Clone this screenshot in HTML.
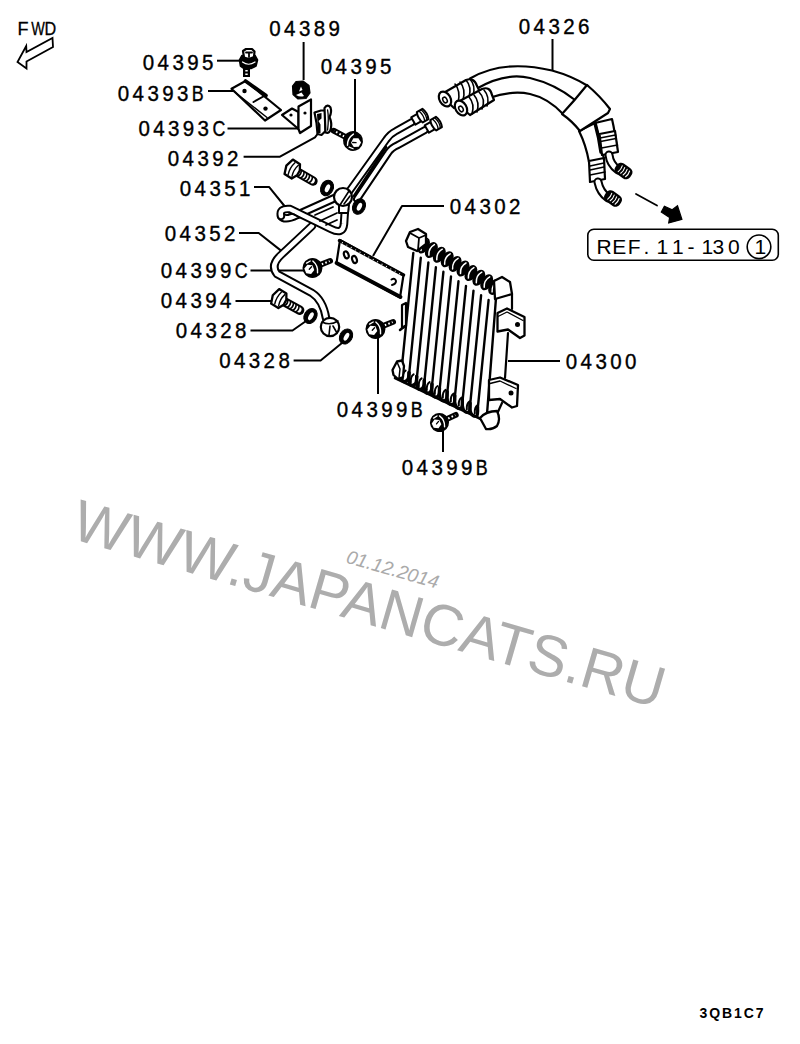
<!DOCTYPE html>
<html><head><meta charset="utf-8"><style>
html,body{margin:0;padding:0;background:#fff;width:800px;height:1044px;overflow:hidden}
svg{position:absolute;left:0;top:0}
text{font-family:"Liberation Sans",sans-serif;fill:#000}
</style></head><body>
<svg width="800" height="1044" viewBox="0 0 800 1044">
<g fill="none" stroke="#000" stroke-width="2" stroke-linecap="butt" stroke-linejoin="round">
<path d="M303.6 42 V80"/>
<path d="M217 60.7 H242"/>
<path d="M208 91 H233"/>
<path d="M355 79 V133"/>
<path d="M227.5 128.6 H299"/>
<path d="M243.6 156.7 H280 L315 137.4 L318.3 133"/>
<path d="M254 186.9 H269 L285.7 207.5"/>
<path d="M239 233 H258.7 L281 250.6"/>
<path d="M250.5 270.5 H307"/>
<path d="M235.5 301 H273.7"/>
<path d="M250.5 330.5 H292.5 L307.5 320"/>
<path d="M293.6 360.5 H320.6 L345 340.6"/>
<path d="M378 334 V394"/>
<path d="M443 430 V452"/>
<path d="M508 361 H560"/>
<path d="M373 256 L402 206 H444"/>
<path d="M552.5 39 V70"/>
</g>
<path d="M52.5 38 L53 47 L26.5 61.5 L26.5 68.5 L17.5 62 L26.2 46 L26.5 52 Z" fill="none" stroke="#000" stroke-width="1.8" stroke-linejoin="miter"/>
<g fill="none" stroke="#000" stroke-width="1.8" stroke-linejoin="round" stroke-linecap="round">
<path d="M231.5 88.7 L245.5 81 L281 110 L265 120.5 Z" fill="#fff" stroke-width="2.2"/>
<path d="M234 91.5 L267 117.5" stroke-width="1.4"/>
<path d="M245.5 81 L266 95.5" stroke-width="3.6"/>
<path d="M253.5 102 L266 95" stroke-width="2"/>
<circle cx="244.5" cy="91" r="2.2" fill="#000" stroke="none"/>
<circle cx="265.5" cy="108.6" r="2.2" fill="#000" stroke="none"/>
<path d="M292.5 86 L296 81.5 L303 81 L309 85.5 L310 93 L306 98.5 L298 99 L293 94.5 Z" fill="#000" stroke="#000" stroke-width="1.2"/>
<path d="M296 95 Q300 97.5 304 96 L301.5 92.5 Z" fill="#fff" stroke="none"/>
<path d="M301 86.5 L302.5 90 L299 91.5 Z" fill="#fff" stroke="none"/>
<path d="M282 115 L292 108.5 L298.5 112 L298.5 129 Z" fill="#fff" stroke-width="2.2"/>
<path d="M298.5 106.5 L311 99.5 L311 126 L300 133 L298.5 129 Z" fill="#fff" stroke-width="2.2"/>
<circle cx="291" cy="115" r="1.6" fill="#000" stroke="none"/>
<circle cx="305" cy="113" r="1.6" fill="#000" stroke="none"/>
<path d="M314.5 112.5 L321 110.5 L325 110.5 L325.5 131 L321.5 135 L317.5 134 L316.5 123 Z" fill="#fff" stroke-width="2.2"/>
<path d="M317 114 L321.5 113 L321.5 118.5 L318.5 121 L320.5 124.5 L320.5 133 L318 133 L317.5 124 Z" fill="#000" stroke="none"/>
<path d="M324.5 108 Q327.5 103.5 330.5 107.5 Q332 112 329.5 117 Q332 123 331 128 Q330 134 325.5 132.5 Z" fill="#fff" stroke-width="2.2"/>
<path d="M327.6 110 Q329 118 327.6 130" stroke-width="1.3"/>
<path d="M348 193 L386 140 Q390 134 396 131 L412 122" stroke-width="8"/>
<path d="M348 193 L386 140 Q390 134 396 131 L412 122" stroke="#fff" stroke-width="4"/>
<path d="M357 199 L388 153 Q391 148 398 145 L425 130" stroke-width="8"/>
<path d="M357 199 L388 153 Q391 148 398 145 L425 130" stroke="#fff" stroke-width="4"/>
<path d="M354 196 L386 147" stroke-width="2.6"/>
<g transform="translate(418.5 118) rotate(-30)"><path d="M-6 -4.2 L2 -4.2 L2 4.2 L-6 4.2 Z" fill="#fff" stroke-width="2"/><path d="M1.5 -6 L8 -6 Q10.5 0 8 6 L1.5 6 Q-1 0 1.5 -6 Z" fill="#fff" stroke-width="2"/><path d="M4 -5.5 Q6 0 4 5.5 M6.5 -5.5 Q8.5 0 6.5 5.5" stroke-width="1.3"/></g>
<g transform="translate(432 126) rotate(-30)"><path d="M-6 -4.2 L2 -4.2 L2 4.2 L-6 4.2 Z" fill="#fff" stroke-width="2"/><path d="M1.5 -6 L8 -6 Q10.5 0 8 6 L1.5 6 Q-1 0 1.5 -6 Z" fill="#fff" stroke-width="2"/><path d="M4 -5.5 Q6 0 4 5.5 M6.5 -5.5 Q8.5 0 6.5 5.5" stroke-width="1.3"/></g>
<path d="M312 226 L281 255 Q270 265 277 274 L312 293 Q323 300 326 318" stroke-width="8.5"/>
<path d="M312 226 L281 255 Q270 265 277 274 L312 293 Q323 300 326 318" stroke="#fff" stroke-width="4.5"/>
<path d="M337 197 L297 215 Q285 221 281 216" stroke-width="8.5"/>
<path d="M337 197 L297 215 Q285 221 281 216" stroke="#fff" stroke-width="4.5"/>
<path d="M281 216 Q279 208 290 209 L331 229 Q343 235 344 224 L345 209" stroke-width="8.5"/>
<path d="M281 216 Q279 208 290 209 L331 229 Q343 235 344 224 L345 209" stroke="#fff" stroke-width="4.5"/>
<path d="M315 215 L333 207 M320 221 L337 213 M326 225 L337 220" stroke-width="1.8"/>
<path d="M287 215 Q292 212 297 216" stroke-width="1.5"/>
<path d="M339 205 L339 213 L348 213 L349 205" fill="#fff" stroke-width="2"/>
<circle cx="343" cy="197" r="9" fill="#fff" stroke-width="2.2"/>
<path d="M340 205 L349 191 M344 204 L350 196" stroke-width="1.6"/>
<circle cx="330" cy="327" r="9.2" fill="#fff" stroke-width="2.2"/>
<path d="M322 322 Q330 326 338 321 M330 326 L329 335 M333 326 L337 333" stroke-width="1.6"/>
<path d="M340 240 L403.5 275 L400 297.5 L336.5 263 Z" fill="#fff" stroke-width="2.2"/>
<path d="M336.5 263 L400.5 297" stroke-width="3.8"/>
<path d="M339.5 240.5 L403.5 275" stroke-width="3.4"/>
<path d="M342 242.5 L401 274.5" stroke="#fff" stroke-width="1.1" stroke-linecap="butt" stroke-dasharray="1 4"/>
<ellipse cx="346.3" cy="254.8" rx="2.2" ry="3.6" transform="rotate(-20 346.3 254.8)" fill="#fff" stroke-width="2.2"/>
<ellipse cx="354.5" cy="259.5" rx="2.2" ry="3.6" transform="rotate(-20 354.5 259.5)" fill="#fff" stroke-width="2.2"/>
<path d="M391.5 279.5 Q395 277.5 396 281 Q396 284 392 285" stroke-width="2"/>
<path d="M495 298 L512 294 L512 309 L507 333 L505 378 L505 405 L500 418 L487 414 Z" fill="#fff" stroke="none"/>
<path d="M413.3 253.0 L400.9 376.7" stroke-width="2.4"/>
<path d="M420.8 257.7 L408.5 380.5" stroke-width="2.4"/>
<path d="M428.4 262.4 L416.2 384.4" stroke-width="2.4"/>
<path d="M435.9 267.1 L423.8 388.2" stroke-width="2.4"/>
<path d="M443.4 271.8 L431.4 392.0" stroke-width="2.4"/>
<path d="M451.0 276.5 L439.0 395.9" stroke-width="2.4"/>
<path d="M458.5 281.2 L446.6 399.7" stroke-width="2.4"/>
<path d="M466.0 285.9 L454.2 403.6" stroke-width="2.4"/>
<path d="M473.5 290.6 L461.9 407.4" stroke-width="2.4"/>
<path d="M481.1 295.3 L469.5 411.2" stroke-width="2.4"/>
<path d="M488.6 300.0 L477.1 415.1" stroke-width="2.4"/>
<path d="M496 298 L487 414" stroke-width="2.4"/>
<path d="M512 294 L512 309 M508 333 L505 378 M502 403 L497 414" stroke-width="2.2"/>
<ellipse cx="423.5" cy="245.5" rx="5.6" ry="8.6" transform="rotate(30 423.5 245.5)" fill="#000" stroke="none"/>
<ellipse cx="431.4" cy="250.1" rx="5.6" ry="8.6" transform="rotate(30 431.4 250.1)" fill="#000" stroke="none"/>
<ellipse cx="439.3" cy="254.7" rx="5.6" ry="8.6" transform="rotate(30 439.3 254.7)" fill="#000" stroke="none"/>
<ellipse cx="447.2" cy="259.3" rx="5.6" ry="8.6" transform="rotate(30 447.2 259.3)" fill="#000" stroke="none"/>
<ellipse cx="455.1" cy="263.9" rx="5.6" ry="8.6" transform="rotate(30 455.1 263.9)" fill="#000" stroke="none"/>
<ellipse cx="463.0" cy="268.5" rx="5.6" ry="8.6" transform="rotate(30 463.0 268.5)" fill="#000" stroke="none"/>
<ellipse cx="470.9" cy="273.1" rx="5.6" ry="8.6" transform="rotate(30 470.9 273.1)" fill="#000" stroke="none"/>
<ellipse cx="478.8" cy="277.7" rx="5.6" ry="8.6" transform="rotate(30 478.8 277.7)" fill="#000" stroke="none"/>
<ellipse cx="486.7" cy="282.3" rx="5.6" ry="8.6" transform="rotate(30 486.7 282.3)" fill="#000" stroke="none"/>
<ellipse cx="494.6" cy="286.9" rx="5.6" ry="8.6" transform="rotate(30 494.6 286.9)" fill="#000" stroke="none"/>
<path d="M421.0 250.5 Q420.5 243.5 426.5 240.0" stroke="#fff" stroke-width="1.5"/>
<path d="M428.9 255.1 Q428.4 248.1 434.4 244.6" stroke="#fff" stroke-width="1.5"/>
<path d="M436.8 259.7 Q436.3 252.7 442.3 249.2" stroke="#fff" stroke-width="1.5"/>
<path d="M444.7 264.3 Q444.2 257.3 450.2 253.8" stroke="#fff" stroke-width="1.5"/>
<path d="M452.6 268.9 Q452.1 261.9 458.1 258.4" stroke="#fff" stroke-width="1.5"/>
<path d="M460.5 273.5 Q460.0 266.5 466.0 263.0" stroke="#fff" stroke-width="1.5"/>
<path d="M468.4 278.1 Q467.9 271.1 473.9 267.6" stroke="#fff" stroke-width="1.5"/>
<path d="M476.3 282.7 Q475.8 275.7 481.8 272.2" stroke="#fff" stroke-width="1.5"/>
<path d="M484.2 287.3 Q483.7 280.3 489.7 276.8" stroke="#fff" stroke-width="1.5"/>
<path d="M492.1 291.9 Q491.6 284.9 497.6 281.4" stroke="#fff" stroke-width="1.5"/>
<path d="M406 241 L410 232 L418 229 L426 234 L426 244 L417 251 L408 247 Z" fill="#fff" stroke-width="2.3"/>
<path d="M410 233 L419 238 L418 250 M419 238 L426 235" stroke-width="1.8"/>
<path d="M494 281 L502 277 L510 282 L512 294 L495 299 Z" fill="#fff" stroke-width="2.3"/>
<path d="M497.5 313 L507 308.5 L524.5 317 L524.5 335.5 L520 338 L508 329.5 L497.5 331.5 Z" fill="#fff" stroke-width="2.3"/>
<path d="M498 316.5 L507 312 L523 320.5" stroke-width="1.3"/>
<circle cx="517.5" cy="324.5" r="2.5" fill="#000" stroke="none"/>
<path d="M489 380 L500 377.5 L518 385 L517 406 L512 407.5 L500 399 L489 400 Z" fill="#fff" stroke-width="2.3"/>
<path d="M490 383.5 L500 381 L516 388.5" stroke-width="1.3"/>
<circle cx="511" cy="393" r="2.5" fill="#000" stroke="none"/>
<path d="M401.4 368.7 Q400.4 382.6 404.6 381.6 Q409.5 380.6 409.0 372.5" stroke-width="3.2"/>
<path d="M402.8 378.6 Q402.4 372.6 405.6 370.6" stroke-width="2"/>
<path d="M409.0 372.5 Q408.0 386.4 412.6 385.4 Q417.2 384.4 416.7 376.4" stroke-width="3.2"/>
<path d="M410.8 382.4 Q410.4 376.4 413.6 374.4" stroke-width="2"/>
<path d="M416.7 376.4 Q415.7 390.3 420.6 389.3 Q424.8 388.3 424.3 380.2" stroke-width="3.2"/>
<path d="M418.8 386.3 Q418.4 380.3 421.6 378.3" stroke-width="2"/>
<path d="M424.3 380.2 Q423.3 394.1 428.6 393.1 Q432.4 392.1 431.9 384.0" stroke-width="3.2"/>
<path d="M426.8 390.1 Q426.4 384.1 429.6 382.1" stroke-width="2"/>
<path d="M431.9 384.0 Q430.9 398.0 436.6 397.0 Q440.0 396.0 439.5 387.9" stroke-width="3.2"/>
<path d="M434.8 394.0 Q434.4 388.0 437.6 386.0" stroke-width="2"/>
<path d="M439.5 387.9 Q438.5 401.8 444.6 400.8 Q447.6 399.8 447.1 391.7" stroke-width="3.2"/>
<path d="M442.8 397.8 Q442.4 391.8 445.6 389.8" stroke-width="2"/>
<path d="M447.1 391.7 Q446.1 405.6 452.6 404.6 Q455.2 403.6 454.7 395.6" stroke-width="3.2"/>
<path d="M450.8 401.6 Q450.4 395.6 453.6 393.6" stroke-width="2"/>
<path d="M454.7 395.6 Q453.7 409.5 460.6 408.5 Q462.9 407.5 462.4 399.4" stroke-width="3.2"/>
<path d="M458.8 405.5 Q458.4 399.5 461.6 397.5" stroke-width="2"/>
<path d="M462.4 399.4 Q461.4 413.3 468.6 412.3 Q470.5 411.3 470.0 403.2" stroke-width="3.2"/>
<path d="M466.8 409.3 Q466.4 403.3 469.6 401.3" stroke-width="2"/>
<path d="M470.0 403.2 Q469.0 417.2 476.6 416.2 Q478.1 415.2 477.6 407.1" stroke-width="3.2"/>
<path d="M474.8 413.2 Q474.4 407.2 477.6 405.2" stroke-width="2"/>
<path d="M395 378 L483 420" stroke-width="2.6"/>
<path d="M392.5 370 L397 361.5 L402 360.5 L404 366 L403 377 L398 379 L393.5 375 Z" fill="#fff" stroke-width="2.3"/>
<path d="M397 362 L400 369 L399 378" stroke-width="1.5"/>
<path d="M480 418 Q486 411 497 411 Q501 419 497 426 Q492 430 486 429 Z" fill="#fff" stroke-width="2.3"/>
<path d="M402 305 L406 303 L406 326 L402 328 Z" fill="#fff" stroke-width="2.2"/>
<path d="M400 330 L405 326" stroke-width="2.5"/>
<path d="M579 131 Q586 145 589 162 L604 159 Q600 140 595 123 Z" fill="#fff" stroke-width="2.2"/>
<path d="M595 123 Q600 138 602 153 L617 149 Q615 132 612 119 Z" fill="#fff" stroke-width="2.2"/>
<path d="M595 123 Q599 137 601 152" stroke-width="3.5"/>
<path d="M589 161 L604 158 L605 179 L590 182 Z" fill="#fff" stroke-width="2.2"/>
<path d="M590 166 L604 163 M590 170 L604 167 M590 175 L605 172" stroke-width="1.6"/>
<path d="M599.5 134 L615 131 L618 152 L602 155 Z" fill="#fff" stroke-width="2.2"/>
<path d="M600 138 L615.5 135 M600.5 141.5 L616 138.5 M601.5 148 L617.5 145" stroke-width="1.6"/>
<path d="M598 182 Q600 192 608 198" stroke-width="9"/>
<path d="M598 182 Q600 192 608 198" stroke="#fff" stroke-width="5"/>
<path d="M609 155 Q610 164 618 170" stroke-width="9"/>
<path d="M609 155 Q610 164 618 170" stroke="#fff" stroke-width="5"/>
<g transform="translate(613 198.5) rotate(35)"><rect x="-9" y="-6.3" width="18" height="12.6" rx="5" ry="5" fill="#000" stroke="none"/><path d="M-4 -3.5 Q-2.8 0 -4 3.5" stroke="#fff" stroke-width="1.1"/><path d="M-1 -3.5 Q0.19999999999999996 0 -1 3.5" stroke="#fff" stroke-width="1.1"/><path d="M2 -3.5 Q3.2 0 2 3.5" stroke="#fff" stroke-width="1.1"/><path d="M5 -3.5 Q6.2 0 5 3.5" stroke="#fff" stroke-width="1.1"/></g>
<g transform="translate(623.5 171) rotate(35)"><rect x="-9" y="-6.3" width="18" height="12.6" rx="5" ry="5" fill="#000" stroke="none"/><path d="M-4 -3.5 Q-2.8 0 -4 3.5" stroke="#fff" stroke-width="1.1"/><path d="M-1 -3.5 Q0.19999999999999996 0 -1 3.5" stroke="#fff" stroke-width="1.1"/><path d="M2 -3.5 Q3.2 0 2 3.5" stroke="#fff" stroke-width="1.1"/><path d="M5 -3.5 Q6.2 0 5 3.5" stroke="#fff" stroke-width="1.1"/></g>
<path d="M470 79 Q503 59 552 71 Q572 77 588 87 L562 114 Q545 96 530 94 Q510 92 490 98 Z" fill="#fff" stroke="none"/>
<path d="M470 78.5 Q503 59 552 70.5 Q572 76 588 86" stroke-width="2.2"/>
<path d="M476 89 Q505 72 530 78 Q555 84 575 100" stroke-width="2.2"/>
<path d="M489 98 Q512 90 530 94 Q548 98 563 114" stroke-width="2.2"/>
<path d="M587 85 Q600 96 610 109 L608 113 L580 131 Q572 121 562 114 Q575 100 587 85 Z" fill="#fff" stroke-width="2.2"/>
<path d="M440 95 L466 80 Q474 77 477 86 L480 92 L454 108 Z" fill="#fff" stroke-width="2.2"/>
<ellipse cx="445" cy="99" rx="5.5" ry="8" transform="rotate(-30 445 99)" fill="#fff" stroke-width="2.2"/>
<ellipse cx="445" cy="100" rx="2" ry="3" transform="rotate(-30 445 100)" fill="#fff" stroke-width="1.5"/>
<path d="M455 84 Q461 91 458 103 M460 82 Q466 89 463 100 M466 80 Q472 87 469 97 M470 79 Q476 86 473 95" stroke-width="1.6"/>
<path d="M456 103 L482 89 Q490 86 492 95 L494 100 L470 115 Z" fill="#fff" stroke-width="2.2"/>
<ellipse cx="461" cy="108" rx="5.5" ry="8" transform="rotate(-30 461 108)" fill="#fff" stroke-width="2.2"/>
<ellipse cx="461" cy="109" rx="2" ry="3" transform="rotate(-30 461 109)" fill="#fff" stroke-width="1.5"/>
<path d="M469 97 Q475 104 472 114 M474 95 Q480 102 477 112 M479 92 Q486 99 482 109 M484 90 Q490 97 487 106" stroke-width="1.6"/>
<path d="M636 194 L657 205.5" stroke-width="1.8"/>
<path d="M661.3 212 L664.4 206.2 L672.2 209.7 L677.5 205.8 L681.9 219.4 L668.7 222.9 L669.6 217.6 Z" fill="#000" stroke-width="1.2" stroke-linejoin="miter"/>
<path d="M246.5 68 L246.5 77" stroke-width="7" stroke-linecap="butt"/>
<path d="M246.5 70 L246.5 76" stroke="#fff" stroke-width="2.4" stroke-linecap="butt" stroke-dasharray="1.6 1.8"/>
<path d="M239.5 60 L242 55.5 L255 55.5 L257.5 60 L256 66 L251 68.5 L244 68.5 L240.5 66 Z" fill="#000" stroke-width="1.6"/>
<path d="M242.5 62 Q248.5 66.5 255 62" stroke="#fff" stroke-width="1.2"/>
<path d="M243 51 L246 49 L252 49 L254.5 51.5 L254 57 L249 59 L244 57.5 Z" fill="#fff" stroke-width="2.2"/>
<path d="M246 52.5 H252 M249 52.5 V57" stroke-width="1.8"/>
<g transform="translate(353 141) rotate(208)"><path d="M5.2 0 L22.0 0" stroke-width="5.8" stroke-linecap="round"/><path d="M10.0 0 L21.5 0" stroke="#fff" stroke-width="2" stroke-linecap="butt" stroke-dasharray="1.6 2.2"/><circle cx="0" cy="0" r="9.2" fill="#000" stroke="#000" stroke-width="1.5"/><path d="M2.9 -6.3 Q6.3 0 2.9 6.3" stroke="#fff" stroke-width="1.4"/><path d="M-3.7 -6.8 L0.5 -7.3" stroke="#fff" stroke-width="1.3"/><polygon points="0.9,2.5 -3.5,5.0 -7.8,2.5 -7.8,-2.5 -3.5,-5.0 0.9,-2.5" fill="#fff" stroke="none"/><path d="M-3.5 0 L-0.4 -1.5" stroke-width="1.3"/></g>
<g transform="translate(293 169.5) rotate(30)"><path d="M4.2 0 L23.0 0" stroke-width="9.5" stroke-linecap="round"/><path d="M4.2 0 L22.0 0" stroke="#fff" stroke-width="5.5"/><path d="M7.7 -3.2 Q9.7 0 7.7 3.2" stroke-width="1.6"/><path d="M10.9 -3.2 Q12.9 0 10.9 3.2" stroke-width="1.6"/><path d="M14.1 -3.2 Q16.1 0 14.1 3.2" stroke-width="1.6"/><path d="M17.2 -3.2 Q19.2 0 17.2 3.2" stroke-width="1.6"/><path d="M20.5 -3.2 Q22.5 0 20.5 3.2" stroke-width="1.6"/><path d="M-5.1 -8.5 L3.4 -8.1 L6.4 -2.5 L6.4 3.0 L3.4 8.5 L-5.1 8.1 L-7.7 0 Z" fill="#fff" stroke-width="2.3"/><path d="M-1.7 -6.8 Q-3.8 0 -1.7 6.8 M2.5 -6.4 Q0.4 0 2.5 6.4" stroke-width="1.4"/></g>
<ellipse cx="327" cy="188" rx="6.2" ry="8" transform="rotate(25 327 188)" fill="#000" stroke="#000" stroke-width="1"/>
<ellipse cx="327.5" cy="188" rx="2.2" ry="4.2" transform="rotate(25 327 188)" fill="#fff" stroke="none"/>
<ellipse cx="359" cy="206.5" rx="6.2" ry="8" transform="rotate(25 359 206.5)" fill="#000" stroke="#000" stroke-width="1"/>
<ellipse cx="359.5" cy="206.5" rx="2.2" ry="4.2" transform="rotate(25 359 206.5)" fill="#fff" stroke="none"/>
<g transform="translate(312.5 268) rotate(-22)"><path d="M5.2 0 L19.0 0" stroke-width="5.8" stroke-linecap="round"/><path d="M10.0 0 L18.5 0" stroke="#fff" stroke-width="2" stroke-linecap="butt" stroke-dasharray="1.6 2.2"/><circle cx="0" cy="0" r="9.2" fill="#000" stroke="#000" stroke-width="1.5"/><path d="M2.9 -6.3 Q6.3 0 2.9 6.3" stroke="#fff" stroke-width="1.4"/><path d="M-3.7 -6.8 L0.5 -7.3" stroke="#fff" stroke-width="1.3"/><polygon points="0.9,2.5 -3.5,5.0 -7.8,2.5 -7.8,-2.5 -3.5,-5.0 0.9,-2.5" fill="#fff" stroke="none"/><path d="M-3.5 0 L-0.4 -1.5" stroke-width="1.3"/></g>
<g transform="translate(279.5 299) rotate(29)"><path d="M4.2 0 L23.0 0" stroke-width="9.5" stroke-linecap="round"/><path d="M4.2 0 L22.0 0" stroke="#fff" stroke-width="5.5"/><path d="M7.7 -3.2 Q9.7 0 7.7 3.2" stroke-width="1.6"/><path d="M10.9 -3.2 Q12.9 0 10.9 3.2" stroke-width="1.6"/><path d="M14.1 -3.2 Q16.1 0 14.1 3.2" stroke-width="1.6"/><path d="M17.2 -3.2 Q19.2 0 17.2 3.2" stroke-width="1.6"/><path d="M20.5 -3.2 Q22.5 0 20.5 3.2" stroke-width="1.6"/><path d="M-5.1 -8.5 L3.4 -8.1 L6.4 -2.5 L6.4 3.0 L3.4 8.5 L-5.1 8.1 L-7.7 0 Z" fill="#fff" stroke-width="2.3"/><path d="M-1.7 -6.8 Q-3.8 0 -1.7 6.8 M2.5 -6.4 Q0.4 0 2.5 6.4" stroke-width="1.4"/></g>
<ellipse cx="310.5" cy="316" rx="6.2" ry="8" transform="rotate(30 310.5 316)" fill="#000" stroke="#000" stroke-width="1"/>
<ellipse cx="311.0" cy="316" rx="2.2" ry="4.2" transform="rotate(30 310.5 316)" fill="#fff" stroke="none"/>
<ellipse cx="346" cy="336.5" rx="6.2" ry="8" transform="rotate(30 346 336.5)" fill="#000" stroke="#000" stroke-width="1"/>
<ellipse cx="346.5" cy="336.5" rx="2.2" ry="4.2" transform="rotate(30 346 336.5)" fill="#fff" stroke="none"/>
<g transform="translate(375.5 329) rotate(-22)"><path d="M5.2 0 L19.0 0" stroke-width="5.8" stroke-linecap="round"/><path d="M10.0 0 L18.5 0" stroke="#fff" stroke-width="2" stroke-linecap="butt" stroke-dasharray="1.6 2.2"/><circle cx="0" cy="0" r="9.2" fill="#000" stroke="#000" stroke-width="1.5"/><path d="M2.9 -6.3 Q6.3 0 2.9 6.3" stroke="#fff" stroke-width="1.4"/><path d="M-3.7 -6.8 L0.5 -7.3" stroke="#fff" stroke-width="1.3"/><polygon points="0.9,2.5 -3.5,5.0 -7.8,2.5 -7.8,-2.5 -3.5,-5.0 0.9,-2.5" fill="#fff" stroke="none"/><path d="M-3.5 0 L-0.4 -1.5" stroke-width="1.3"/></g>
<g transform="translate(439.5 422.5) rotate(-25)"><path d="M5.0 0 L18.0 0" stroke-width="5.8" stroke-linecap="round"/><path d="M9.5 0 L17.5 0" stroke="#fff" stroke-width="2" stroke-linecap="butt" stroke-dasharray="1.6 2.2"/><circle cx="0" cy="0" r="8.8" fill="#000" stroke="#000" stroke-width="1.5"/><path d="M2.8 -6.0 Q6.0 0 2.8 6.0" stroke="#fff" stroke-width="1.4"/><path d="M-3.5 -6.5 L0.5 -7.0" stroke="#fff" stroke-width="1.3"/><polygon points="0.9,2.4 -3.3,4.8 -7.5,2.4 -7.5,-2.4 -3.3,-4.8 0.9,-2.4" fill="#fff" stroke="none"/><path d="M-3.3 0 L-0.4 -1.4" stroke-width="1.3"/></g>
</g>
<g>
<text transform="translate(269.3 35.8) scale(0.92 1)" x="0.00 16.09 32.17 48.26 64.35" y="0" font-size="22.3" stroke="#000" stroke-width="0.4">04389</text>
<text transform="translate(142.8 69.5) scale(0.92 1)" x="0.00 16.09 32.17 48.26 64.35" y="0" font-size="22.3" stroke="#000" stroke-width="0.4">04395</text>
<text transform="translate(117.8 100.5) scale(0.92 1)" x="0.00 16.09 32.17 48.26 64.35" y="0" font-size="22.3" stroke="#000" stroke-width="0.4">04393</text><text transform="translate(191.8 100.5) scale(0.8 1)" x="0" y="0" font-size="22.3" stroke="#000" stroke-width="0.4">B</text>
<text transform="translate(320.8 73.5) scale(0.92 1)" x="0.00 16.09 32.17 48.26 64.35" y="0" font-size="22.3" stroke="#000" stroke-width="0.4">04395</text>
<text transform="translate(138.4 136) scale(0.92 1)" x="0.00 16.09 32.17 48.26 64.35" y="0" font-size="22.3" stroke="#000" stroke-width="0.4">04393</text><text transform="translate(212.4 136) scale(0.8 1)" x="0" y="0" font-size="22.3" stroke="#000" stroke-width="0.4">C</text>
<text transform="translate(167.8 166) scale(0.92 1)" x="0.00 16.09 32.17 48.26 64.35" y="0" font-size="22.3" stroke="#000" stroke-width="0.4">04392</text>
<text transform="translate(179.8 195.5) scale(0.92 1)" x="0.00 16.09 32.17 48.26 64.35" y="0" font-size="22.3" stroke="#000" stroke-width="0.4">04351</text>
<text transform="translate(164.8 241.2) scale(0.92 1)" x="0.00 16.09 32.17 48.26 64.35" y="0" font-size="22.3" stroke="#000" stroke-width="0.4">04352</text>
<text transform="translate(160.8 277.8) scale(0.92 1)" x="0.00 16.09 32.17 48.26 64.35" y="0" font-size="22.3" stroke="#000" stroke-width="0.4">04399</text><text transform="translate(234.8 277.8) scale(0.8 1)" x="0" y="0" font-size="22.3" stroke="#000" stroke-width="0.4">C</text>
<text transform="translate(160.8 308.3) scale(0.92 1)" x="0.00 16.09 32.17 48.26 64.35" y="0" font-size="22.3" stroke="#000" stroke-width="0.4">04394</text>
<text transform="translate(175.8 338) scale(0.92 1)" x="0.00 16.09 32.17 48.26 64.35" y="0" font-size="22.3" stroke="#000" stroke-width="0.4">04328</text>
<text transform="translate(219.2 368) scale(0.92 1)" x="0.00 16.09 32.17 48.26 64.35" y="0" font-size="22.3" stroke="#000" stroke-width="0.4">04328</text>
<text transform="translate(336.8 417) scale(0.92 1)" x="0.00 16.09 32.17 48.26 64.35" y="0" font-size="22.3" stroke="#000" stroke-width="0.4">04399</text><text transform="translate(410.8 417) scale(0.8 1)" x="0" y="0" font-size="22.3" stroke="#000" stroke-width="0.4">B</text>
<text transform="translate(401.8 474.5) scale(0.92 1)" x="0.00 16.09 32.17 48.26 64.35" y="0" font-size="22.3" stroke="#000" stroke-width="0.4">04399</text><text transform="translate(475.8 474.5) scale(0.8 1)" x="0" y="0" font-size="22.3" stroke="#000" stroke-width="0.4">B</text>
<text transform="translate(565.8 369) scale(0.92 1)" x="0.00 16.09 32.17 48.26 64.35" y="0" font-size="22.3" stroke="#000" stroke-width="0.4">04300</text>
<text transform="translate(449.8 214) scale(0.92 1)" x="0.00 16.09 32.17 48.26 64.35" y="0" font-size="22.3" stroke="#000" stroke-width="0.4">04302</text>
<text transform="translate(518.8 34) scale(0.92 1)" x="0.00 16.09 32.17 48.26 64.35" y="0" font-size="22.3" stroke="#000" stroke-width="0.4">04326</text>
<text x="17.6" y="35.2" font-size="18" stroke="#000" stroke-width="0.3">F</text>
<text transform="translate(31.2 35.2) scale(0.8 1)" x="0" y="0" font-size="18" stroke="#000" stroke-width="0.3">W</text>
<text transform="translate(44.6 35.2) scale(0.9 1)" x="0" y="0" font-size="18" stroke="#000" stroke-width="0.3">D</text>
<text x="699.5" y="1017.5" font-size="14" font-weight="bold" textLength="64" lengthAdjust="spacing">3QB1C7</text>
</g>
<!-- REF box -->
<rect x="587.8" y="229.3" width="190.5" height="31" rx="6" ry="6" fill="none" stroke="#000" stroke-width="1.6"/>
<text x="596.5 612.3 627.7 643.6 656.5 672 687.5 701.5 712.5 728" y="253.5" font-size="21">REF.11-130</text>
<circle cx="759" cy="246.8" r="11.8" fill="none" stroke="#000" stroke-width="1.6"/>
<text x="754.5" y="253.5" font-size="21">1</text>
<!-- watermark -->
<g transform="translate(80.7,498.5) rotate(16.15)">
<text x="0" y="41" font-size="58.3" style="fill:#adadad">WWW.JAPANCATS.RU</text>
</g>
<g transform="translate(349,549) rotate(16)">
<text x="0" y="14" font-size="19" font-style="italic" style="fill:#aaa">01.12.2014</text>
</g>
</svg>
</body></html>
